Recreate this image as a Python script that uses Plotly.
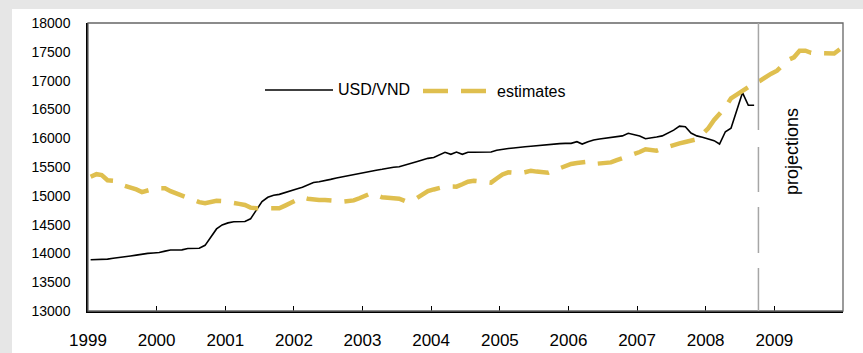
import plotly.graph_objects as go

# ---------------- data ----------------
usd_vnd_start = (1999, 1)
usd_vnd = [
    # 1999
    13890, 13890, 13890, 13900, 13915, 13925, 13935, 13955, 13970, 13990, 14000, 14008,
    # 2000
    14015, 14040, 14058, 14060, 14062, 14085, 14088, 14090, 14140, 14280, 14425, 14495,
    # 2001
    14530, 14550, 14552, 14555, 14600, 14745, 14900, 14975, 15010, 15025, 15060, 15095,
    # 2002
    15120, 15150, 15190, 15230, 15245, 15260, 15285, 15310, 15330, 15350, 15375, 15400,
    # 2003
    15415, 15430, 15445, 15460, 15480, 15495, 15505, 15530, 15560, 15590, 15620, 15650,
    # 2004
    15665, 15710, 15755, 15720, 15760, 15720, 15755, 15755, 15755, 15755, 15760, 15790,
    # 2005
    15810, 15820, 15830, 15845, 15852, 15860, 15870, 15885, 15894, 15900, 15905, 15910,
    # 2006
    15911, 15939, 15899, 15940, 15970, 15985, 15998, 16010, 16025, 16040, 16085, 16060,
    # 2007
    16038, 15990, 16000, 16020, 16040, 16090, 16140, 16210, 16200, 16090, 16040, 16016,
    # 2008
    15985, 15957, 15899, 16113, 16172, 16470, 16790, 16571, 16571,
]

estimates_start = (1999, 1)
estimates = [
    # 1999
    15330, 15375, 15360, 15270, 15262, 15230, 15175, 15150, 15110, 15065, 15100, 15120,
    # 2000
    15130, 15130, 15080, 15040, 15000, 14960, 14930, 14890, 14870, 14900, 14915, 14910,
    # 2001
    14898, 14890, 14860, 14840, 14795, 14783, 14780, 14775, 14775, 14783, 14830, 14880,
    # 2002
    14930, 14973, 14950, 14930, 14927, 14925, 14927, 14910, 14898, 14900, 14920, 14957,
    # 2003
    15000, 15043, 15010, 14973, 14965, 14960, 14950, 14910, 14920, 14957, 15020, 15080,
    # 2004
    15110, 15140, 15159, 15160, 15159, 15200, 15245, 15262, 15250, 15235, 15228, 15300,
    # 2005
    15370, 15408, 15400, 15391, 15410, 15436, 15420, 15405, 15401, 15440, 15477, 15520,
    # 2006
    15552, 15570, 15585, 15592, 15552, 15555, 15564, 15580, 15620, 15651, 15680, 15708,
    # 2007
    15760, 15807, 15795, 15783, 15820, 15855, 15885, 15911, 15935, 15960, 15981, 16070,
    # 2008
    16172, 16316, 16430, 16536, 16693, 16760, 16807, 16880, 16953, 16995, 17068, 17120,
    # 2009
    17172, 17260, 17358, 17404, 17519, 17519, 17483, 17478, 17473, 17456, 17470, 17543,
]

year_ticks = list(range(1999, 2010))
y_ticks = [13000, 13500, 14000, 14500, 15000, 15500, 16000, 16500, 17000, 17500, 18000]
projection_start = "2008-10-08"
series_names = ["USD/VND", "estimates"]
projection_label = "projections"


def month_dates(start, n):
    y, m = start
    out = []
    for _ in range(n):
        out.append(f"{y}-{m:02d}-15")
        m += 1
        if m > 12:
            m = 1
            y += 1
    return out


usd_dates = month_dates(usd_vnd_start, len(usd_vnd))
est_dates = month_dates(estimates_start, len(estimates))

GOLD = "#DFBF4F"
FONT = "Liberation Sans, Arial, sans-serif"

fig = go.Figure()
fig.add_trace(go.Scatter(x=usd_dates, y=usd_vnd, mode="lines", name=series_names[0],
                         line=dict(color="black", width=1.6), showlegend=False))
fig.add_trace(go.Scatter(x=est_dates, y=estimates, mode="lines", name=series_names[1],
                         line=dict(color=GOLD, width=4.5, dash="25px,13px"), showlegend=False))

W, H = 863, 353
L, R, T, B = 88, 20, 23, 42
pw, ph = W - L - R, H - T - B


def px_x(p):
    return (p - L) / pw


def px_y(p):
    return (H - B - p) / ph


shapes = [
    # white panel on gray page
    dict(type="rect", xref="paper", yref="paper", x0=px_x(12), x1=px_x(W + 5),
         y0=px_y(H + 5), y1=px_y(9), fillcolor="white", line=dict(width=0), layer="below"),
    # frame (top/right gray)
    dict(type="rect", xref="x domain", yref="y domain", x0=0, x1=1, y0=0, y1=1,
         line=dict(color="#666666", width=1.3), layer="above"),
    # legend samples
    dict(type="line", xref="paper", yref="paper", x0=px_x(265), x1=px_x(333),
         y0=px_y(90), y1=px_y(90), line=dict(color="black", width=1.6)),
    dict(type="line", xref="paper", yref="paper", x0=px_x(423), x1=px_x(487),
         y0=px_y(91), y1=px_y(91), line=dict(color=GOLD, width=4.5, dash="25px,13px")),
]
# projection divider: long-dashed grey vertical line (segments in pixel rows)
for top_px, bot_px in [(23, 130), (147, 192), (207, 253), (268, 311)]:
    shapes.append(dict(type="line", xref="x", yref="paper",
                       x0=projection_start, x1=projection_start,
                       y0=px_y(bot_px), y1=px_y(top_px),
                       line=dict(color="#a6a6a6", width=1.5), layer="above"))

annotations = [
    dict(xref="paper", yref="paper", x=px_x(336), y=px_y(90), text=series_names[0],
         showarrow=False, xanchor="left", yanchor="middle",
         font=dict(family=FONT, size=16, color="black")),
    dict(xref="paper", yref="paper", x=px_x(495), y=px_y(91), text=series_names[1],
         showarrow=False, xanchor="left", yanchor="middle",
         font=dict(family=FONT, size=16, color="black")),
    dict(xref="paper", yref="paper", x=px_x(792), y=px_y(152), text=projection_label,
         showarrow=False, textangle=-90, xanchor="center", yanchor="middle",
         font=dict(family=FONT, size=18, color="black")),
]

fig.update_layout(
    width=W, height=H,
    margin=dict(l=L, r=R, t=T, b=B, pad=0, autoexpand=False),
    paper_bgcolor="#e6e6e6",
    plot_bgcolor="white",
    shapes=shapes,
    annotations=annotations,
    showlegend=False,
    xaxis=dict(
        type="date",
        range=["1999-01-01", "2010-01-01"],
        tickvals=[f"{y}-01-01" for y in year_ticks],
        ticktext=[str(y) for y in year_ticks],
        ticks="inside", ticklen=5, tickwidth=1.2, tickcolor="black",
        showline=True, linecolor="black", linewidth=1.5,
        showgrid=False, zeroline=False, automargin=False,
        ticklabelstandoff=13,
        tickfont=dict(family=FONT, size=17, color="black"),
    ),
    yaxis=dict(
        range=[13000, 18000],
        tickvals=y_ticks,
        ticktext=[str(v) for v in y_ticks],
        ticks="", showline=True, linecolor="black", linewidth=1.5,
        showgrid=False, zeroline=False, automargin=False,
        ticklabelstandoff=13,
        tickfont=dict(family=FONT, size=14, color="black"),
    ),
)

fig.write_html("out.html")
